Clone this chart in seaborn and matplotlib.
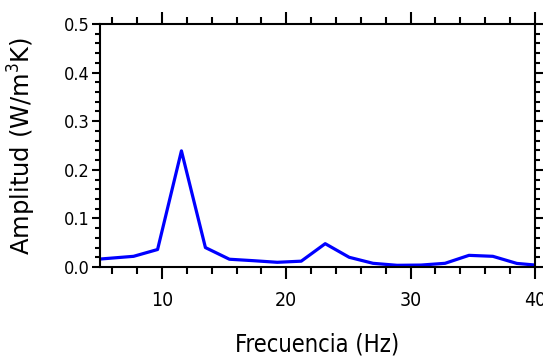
import numpy as np
import pandas as pd
import seaborn as sns
import matplotlib.pyplot as plt
from matplotlib.ticker import MultipleLocator

# Data
frecuencia = [3.85, 5.78, 7.71, 9.64, 11.56, 13.49, 15.42, 17.35, 19.27, 21.20,
              23.13, 25.06, 26.98, 28.91, 30.84, 32.77, 34.70, 36.62, 38.55, 40.48]
amplitud = [0.014, 0.018, 0.022, 0.036, 0.239, 0.040, 0.016, 0.013, 0.0097, 0.012,
            0.048, 0.020, 0.0076, 0.0035, 0.004, 0.0076, 0.024, 0.022, 0.0074, 0.003]

df = pd.DataFrame({'Frecuencia': frecuencia, 'Amplitud': amplitud})

sns.set_theme(style='ticks')
plt.rcParams['font.family'] = ['DejaVu Sans']
plt.rcParams['font.stretch'] = 'condensed'
plt.rcParams['text.color'] = 'black'
plt.rcParams['axes.labelcolor'] = 'black'

fig = plt.figure(figsize=(5.43, 3.62), dpi=100)
ax = fig.add_axes([0.184, 0.2624, 0.801, 0.6713])

sns.lineplot(data=df, x='Frecuencia', y='Amplitud', ax=ax, color='#0000ff',
             linewidth=2.3)

ax.set_xlim(5, 40)
ax.set_ylim(0, 0.5)
ax.xaxis.set_major_locator(MultipleLocator(10))
ax.xaxis.set_minor_locator(MultipleLocator(2))
ax.yaxis.set_major_locator(MultipleLocator(0.1))
ax.yaxis.set_minor_locator(MultipleLocator(0.02))
ax.yaxis.set_major_formatter(plt.FuncFormatter(lambda v, p: f'{v:.1f}'))

for s in ax.spines.values():
    s.set_visible(True)
    s.set_linewidth(1.5)
    s.set_color('black')

ax.tick_params(axis='both', which='both', direction='out', top=True, right=True,
               color='black', labelcolor='black', width=1.5)
ax.tick_params(axis='x', which='major', length=8.5, pad=8.5, labelsize=14)
ax.tick_params(axis='x', which='minor', length=5)
ax.tick_params(axis='y', which='major', length=6, pad=1.5, labelsize=13)
ax.tick_params(axis='y', which='minor', length=3.5)

ax.set_xlabel('Frecuencia (Hz)', fontsize=17, color='black')
ax.set_ylabel('Amplitud (W/m$^3$K)', fontsize=17.5, family=['DejaVu Sans'],
              fontstretch='normal', color='black')
ax.xaxis.set_label_coords(0.5, -0.27)
ax.yaxis.set_label_coords(-0.142, 0.5)

fig.savefig('out.png', dpi=100)
